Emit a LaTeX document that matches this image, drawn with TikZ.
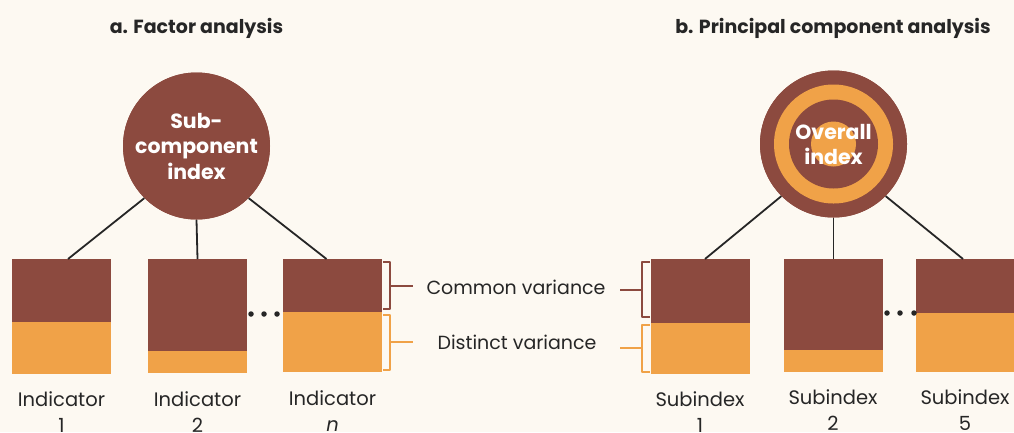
\documentclass[tikz,border=0pt]{standalone}
\usepackage{fontspec}
\setmainfont{Poppins}
\usetikzlibrary{fit}
\definecolor{bg}{HTML}{FDF9F2}
\definecolor{brn}{HTML}{8C4A3F}
\definecolor{org}{HTML}{F0A248}
\definecolor{ink}{HTML}{262626}
\tikzset{
  title/.style={font=\bfseries\fontsize{19}{22}\selectfont, text=ink, inner sep=0},
  lbl/.style={font=\fontsize{19.5}{26}\selectfont, text=ink, align=center, inner sep=0, anchor=north},
  note/.style={font=\fontsize{19}{22}\selectfont, text=ink, inner sep=0},
  wire/.style={draw=ink, line width=1.8pt},
  brace/.style={line width=1.8pt, line join=round},
  dot/.style={circle, fill=ink, inner sep=0, minimum size=5.5pt},
  hub/.style={circle, inner sep=0, minimum size=147pt, fill=brn, text=white,
    align=center, font=\bfseries\fontsize{20.5}{25.5}\selectfont},
}
% stacked variance box: name, left, split, bottom, right
\newcommand\varbox[5]{%
  \fill[brn] (#2,259) rectangle (#5,#3);
  \fill[org] (#2,#3) rectangle (#5,#4);
  \node[fit={(#2,259) (#5,#4)}, inner sep=0, outer sep=0] (#1) {};
}
\begin{document}
\begin{tikzpicture}[x=1pt,y=-1pt]
\fill[bg] (0,0) rectangle (1014,432);
\useasboundingbox (0,0) rectangle (1014,432);
\clip (0,0) rectangle (1014,432);

% ---------- a. Factor analysis ----------
\node[title] (ta) at (196.5,28) {a. Factor analysis};
\varbox{a1}{12}{322}{374}{111}
\varbox{a2}{148}{351}{373}{247}
\varbox{a3}{283}{312}{372}{382}
\node[hub] (ha) at (196.5,146) {};
\draw[wire] ([xshift=6.5pt]a1.north) -- (ha.225);
\draw[wire] (a2.north) -- (ha.south);
\draw[wire] ([xshift=-6pt]a3.north) -- (ha.315);
\node[hub] (ha) at (196.5,146) {Sub-\\component\\index};
\node[dot] (da1) at (251,314) {};
\node[dot] (da2) at (264,314) {};
\node[dot] (da3) at (277,314) {};
\node[lbl] (la1) at (61.5,391) {Indicator\\1};
\node[lbl] (la2) at (197.5,391) {Indicator\\2};
\node[lbl] (la3) at (332.5,390) {Indicator\\\itshape n};

% variance notes with their braces
\node[note] (cv) at (516,287) {Common variance};
\node[note] (dv) at (517,342) {Distinct variance};
\draw[brace, brn] (383,262) -- (390,262) -- (390,309) -- (383,309);
\draw[brace, brn] (390,286) coordinate (cva) -- (413,286);
\draw[brace, org] (383,315) -- (390,315) -- (390,370) -- (383,370);
\draw[brace, org] (390,342) coordinate (dva) -- (413,342);
\draw[brace, brn] (650,262) -- (642,262) -- (642,317) -- (650,317);
\draw[brace, brn] (642,290) coordinate (cvb) -- (620,290);
\draw[brace, org] (650,325) -- (642,325) -- (642,372) -- (650,372);
\draw[brace, org] (642,348) coordinate (dvb) -- (620,348);

% ---------- b. Principal component analysis ----------
\node[title] (tb) at (833,28) {b. Principal component analysis};
\varbox{b1}{651}{323}{374}{750}
\varbox{b2}{784}{350}{372}{883}
\varbox{b3}{916}{313}{372}{1016}
\node[hub] (hb) at (833.5,144) {};
\draw[wire] ([xshift=4.5pt]b1.north) -- (hb.225);
\draw[wire] (b2.north) -- (hb.south);
\draw[wire] ([xshift=-3pt]b3.north) -- (hb.315);
\node[hub] (hb) at (833.5,144) {};
\node[circle, fill=org, inner sep=0, minimum size=119pt] (rb1) at (hb) {};
\node[circle, fill=brn, inner sep=0, minimum size=89pt] (rb2) at (hb) {};
\node[circle, fill=org, inner sep=0, minimum size=45pt] (rb3) at (hb) {};
\node[text=white, align=center, inner sep=0,
  font=\bfseries\fontsize{20.5}{25}\selectfont] (tx) at (833.5,144.5) {Overall\\index};
\node[dot] (db1) at (887,313) {};
\node[dot] (db2) at (900,313) {};
\node[dot] (db3) at (914,313) {};
\node[lbl] (lb1) at (700,391) {Subindex\\1};
\node[lbl] (lb2) at (833,389) {Subindex\\2};
\node[lbl] (lb3) at (965,389) {Subindex\\5};
\end{tikzpicture}
\end{document}
